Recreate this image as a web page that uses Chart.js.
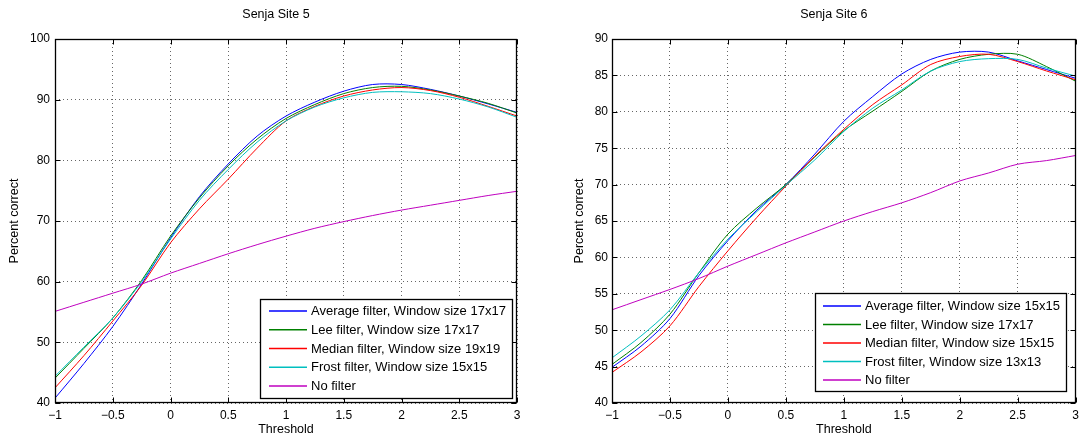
<!DOCTYPE html>
<html>
<head>
<meta charset="utf-8">
<script src="https://cdn.jsdelivr.net/npm/chart.js@4.4.1/dist/chart.umd.min.js"></script>
<style>
  html, body { margin: 0; padding: 0; background: #fff; }
  #wrap { position: relative; width: 1084px; height: 442px; }
  .pane { position: absolute; top: 0; width: 542px; height: 442px; }
</style>
</head>
<body>
<div id="wrap">
  <div class="pane" style="left:0"><canvas id="site5" width="542" height="442"></canvas></div>
  <div class="pane" style="left:542px"><canvas id="site6" width="542" height="442"></canvas></div>
</div>
<script>
// Threshold values shared by every curve
const thresholds = [-1, -0.75, -0.5, -0.25, 0, 0.25, 0.5, 0.75, 1, 1.25, 1.5, 1.75, 2, 2.25, 2.5, 2.75, 3];

// Senja Site 5 — percent correct per threshold
const site5Average = [40.8, 46.5, 52.6, 59.6, 67.2, 74.0, 79.4, 84.0, 87.3, 89.6, 91.4, 92.5, 92.5, 91.7, 90.6, 89.3, 87.9];
const site5Lee     = [44.1, 49.0, 54.0, 60.2, 67.5, 73.8, 79.1, 83.5, 86.9, 89.2, 91.0, 92.0, 92.2, 91.6, 90.6, 89.4, 87.8];
const site5Median  = [42.5, 47.8, 53.5, 59.4, 66.4, 72.0, 76.9, 82.0, 86.5, 88.9, 90.6, 91.6, 92.0, 91.5, 90.4, 88.9, 87.3];
const site5Frost   = [44.4, 49.2, 54.0, 60.0, 67.0, 73.4, 78.5, 83.0, 86.5, 88.8, 90.3, 91.2, 91.3, 91.0, 90.1, 88.8, 87.1];
const site5None    = [55.1, 56.6, 58.1, 59.6, 61.4, 63.0, 64.6, 66.1, 67.5, 68.8, 69.9, 70.9, 71.8, 72.6, 73.4, 74.2, 74.9];

// Senja Site 6 — percent correct per threshold
const site6Average = [44.9, 47.8, 51.6, 57.5, 62.3, 66.5, 70.0, 74.2, 78.7, 82.1, 85.2, 87.2, 88.2, 88.2, 87.0, 85.8, 84.6];
const site6Lee     = [45.3, 48.3, 52.2, 57.9, 63.2, 66.8, 70.0, 73.8, 77.4, 80.1, 82.8, 85.6, 87.2, 87.9, 87.9, 86.2, 84.2];
const site6Median  = [44.2, 47.0, 50.6, 56.0, 60.9, 65.5, 69.8, 73.9, 77.6, 81.0, 83.7, 86.5, 87.6, 87.9, 86.9, 85.6, 84.4];
const site6Frost   = [46.2, 49.2, 52.8, 57.9, 62.5, 66.3, 69.9, 73.4, 77.3, 80.5, 83.0, 85.6, 86.9, 87.3, 87.2, 86.0, 84.9];
const site6None    = [52.8, 54.2, 55.6, 57.1, 58.8, 60.4, 62.0, 63.5, 65.0, 66.3, 67.5, 68.9, 70.5, 71.6, 72.8, 73.3, 74.0];

// Legend labels
const site5Labels = [
  'Average filter, Window size 17x17',
  'Lee filter, Window size 17x17',
  'Median filter, Window size 19x19',
  'Frost filter, Window size 15x15',
  'No filter'
];
const site6Labels = [
  'Average filter, Window size 15x15',
  'Lee filter, Window size 17x17',
  'Median filter, Window size 15x15',
  'Frost filter, Window size 13x13',
  'No filter'
];

// Axis tick values
const xTicks = [-1, -0.5, 0, 0.5, 1, 1.5, 2, 2.5, 3];
const site5YTicks = [40, 50, 60, 70, 80, 90, 100];
const site6YTicks = [40, 45, 50, 55, 60, 65, 70, 75, 80, 85, 90];

const seriesColors = ['#0000ff', '#008000', '#ff0000', '#00bfbf', '#bf00bf'];
const FONT = '"Liberation Sans", Arial, Helvetica, sans-serif';

function fmt(v) {
  return String(v).replace('-', '\u2212');
}

// Panel title drawn above the plot box
const panelTitle = {
  id: 'panelTitle',
  afterDraw(chart, args, opts) {
    const { ctx, chartArea: a } = chart;
    ctx.save();
    ctx.font = `${opts.size}px ${FONT}`;
    ctx.fillStyle = '#000';
    ctx.textAlign = 'center';
    ctx.textBaseline = 'middle';
    ctx.fillText(opts.text, (a.left + a.right) / 2 + opts.dx, opts.y);
    ctx.restore();
  }
};

// Closed axes box with inward tick marks on all four sides
const axesFrame = {
  id: 'axesFrame',
  afterDatasetsDraw(chart) {
    const { ctx, chartArea: a, scales } = chart;
    const L = Math.round(a.left) + 0.5, R = Math.round(a.right) - 0.5;
    const T = Math.round(a.top) + 0.5, B = Math.round(a.bottom) - 0.5;
    const len = 5;
    ctx.save();
    ctx.strokeStyle = '#000';
    ctx.lineWidth = 1;
    ctx.beginPath();
    scales.x.ticks.forEach(t => {
      const px = Math.round(scales.x.getPixelForValue(t.value)) + 0.5;
      ctx.moveTo(px, B); ctx.lineTo(px, B - len);
      ctx.moveTo(px, T); ctx.lineTo(px, T + len);
    });
    scales.y.ticks.forEach(t => {
      const py = Math.round(scales.y.getPixelForValue(t.value)) + 0.5;
      ctx.moveTo(L, py); ctx.lineTo(L + len, py);
      ctx.moveTo(R, py); ctx.lineTo(R - len, py);
    });
    ctx.stroke();
    ctx.lineWidth = 1.3;
    ctx.strokeRect(L, T, R - L, B - T);
    ctx.restore();
  }
};

// Boxed legend placed in the lower right corner of the plot
const boxedLegend = {
  id: 'boxedLegend',
  afterDraw(chart, args, o) {
    const { ctx, chartArea: a } = chart;
    const sets = chart.data.datasets;
    ctx.save();
    ctx.font = `${o.size}px ${FONT}`;
    const textW = Math.max(...sets.map(d => ctx.measureText(d.label).width));
    const w = o.padLeft + o.lineLen + o.gap + textW + o.padRight;
    const h = o.padTop + o.rowH * (sets.length - 1) + o.padBottom;
    const right = Math.round(a.right - o.marginRight);
    const bottom = Math.round(a.bottom - o.marginBottom);
    const left = Math.round(right - w), top = Math.round(bottom - h);
    ctx.fillStyle = '#fff';
    ctx.fillRect(left, top, right - left, bottom - top);
    ctx.strokeStyle = '#000';
    ctx.lineWidth = 1.3;
    ctx.strokeRect(left + 0.5, top + 0.5, right - left - 1, bottom - top - 1);
    ctx.textAlign = 'left';
    ctx.textBaseline = 'middle';
    sets.forEach((d, i) => {
      const y = top + o.padTop + i * o.rowH;
      ctx.beginPath();
      ctx.strokeStyle = seriesColors[i];
      ctx.lineWidth = 1.5;
      ctx.moveTo(left + o.padLeft, y);
      ctx.lineTo(left + o.padLeft + o.lineLen, y);
      ctx.stroke();
      ctx.fillStyle = '#000';
      ctx.fillText(d.label, left + o.padLeft + o.lineLen + o.gap, y + 0.5);
    });
    ctx.restore();
  }
};

function buildPanel(canvasId, cfg) {
  const datasets = cfg.series.map((vals, i) => ({
    label: cfg.labels[i],
    data: thresholds.map((t, k) => ({ x: t, y: vals[k] })),
    borderColor: seriesColors[i],
    borderWidth: 1,
    pointRadius: 0,
    tension: 0.3,
    fill: false,
    order: cfg.series.length - i
  }));

  return new Chart(document.getElementById(canvasId), {
    type: 'line',
    data: { datasets },
    options: {
      responsive: false,
      animation: false,
      devicePixelRatio: 1,
      layout: { padding: { left: 0, right: cfg.padRight, top: 39, bottom: 0 } },
      plugins: {
        legend: { display: false },
        tooltip: { enabled: false },
        title: { display: false },
        panelTitle: { text: cfg.title, size: 12.5, y: 15, dx: -10 },
        boxedLegend: Object.assign({ size: 13, lineLen: 38, gap: 4, padRight: 7 }, cfg.legend)
      },
      scales: {
        x: {
          type: 'linear',
          min: -1, max: 3,
          afterBuildTicks: s => { s.ticks = xTicks.map(v => ({ value: v })); },
          ticks: { color: '#000', font: { family: FONT, size: 12 }, padding: 5, maxRotation: 0, autoSkip: false, callback: v => fmt(v) },
          grid: { color: 'rgba(0,0,0,0.6)', lineWidth: 1, drawTicks: false },
          border: { display: false, dash: [1, 3] },
          title: { display: true, text: 'Threshold', color: '#000', font: { family: FONT, size: 12.5 }, padding: { top: 0, bottom: 4.5 } },
          afterFit: s => { s.height = 39; }
        },
        y: {
          type: 'linear',
          min: cfg.yTicks[0], max: cfg.yTicks[cfg.yTicks.length - 1],
          afterBuildTicks: s => { s.ticks = cfg.yTicks.map(v => ({ value: v })); },
          ticks: { color: '#000', font: { family: FONT, size: 12 }, padding: cfg.yTickPad, autoSkip: false, callback: v => fmt(v) },
          grid: { color: 'rgba(0,0,0,0.6)', lineWidth: 1, drawTicks: false },
          border: { display: false, dash: [1, 3] },
          title: { display: true, text: 'Percent correct', color: '#000', font: { family: FONT, size: 12.5 }, padding: { top: cfg.yTitlePad, bottom: 0 } },
          afterFit: s => { s.width = cfg.yAxisWidth; }
        }
      }
    },
    plugins: [axesFrame, boxedLegend, panelTitle]
  });
}

buildPanel('site5', {
  title: 'Senja Site 5',
  labels: site5Labels,
  series: [site5Average, site5Lee, site5Median, site5Frost, site5None],
  yTicks: site5YTicks,
  yAxisWidth: 55,
  yTickPad: 5,
  yTitlePad: 7.5,
  padRight: 25,
  legend: { padLeft: 9, padTop: 12, padBottom: 13, rowH: 18.75, marginRight: 4, marginBottom: 4 }
});

buildPanel('site6', {
  title: 'Senja Site 6',
  labels: site6Labels,
  series: [site6Average, site6Lee, site6Median, site6Frost, site6None],
  yTicks: site6YTicks,
  yAxisWidth: 70,
  yTickPad: 4,
  yTitlePad: 30,
  padRight: 7,
  legend: { padLeft: 8, padTop: 13, padBottom: 12, rowH: 18.5, marginRight: 9, marginBottom: 11 }
});
</script>
</body>
</html>
